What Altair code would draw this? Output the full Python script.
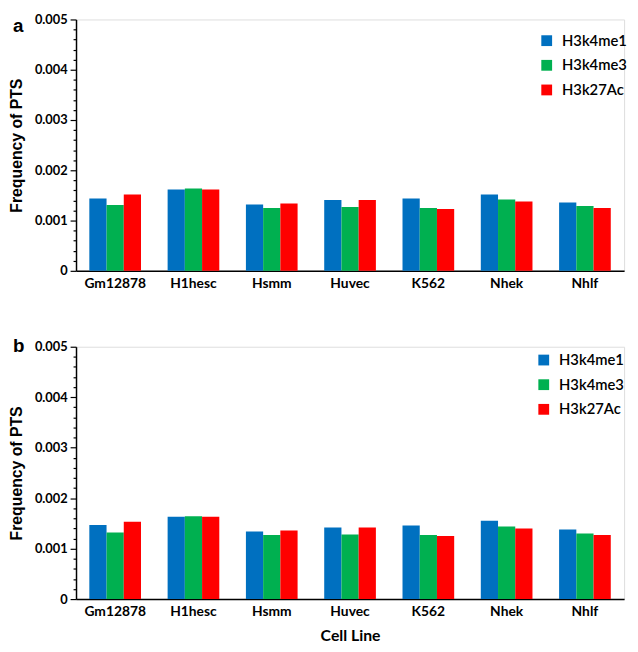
import altair as alt
import pandas as pd

cells = ["Gm12878", "H1hesc", "Hsmm", "Huvec", "K562", "Nhek", "Nhlf"]
marks = ["H3k4me1", "H3k4me3", "H3k27Ac"]
colors = ["#0070C0", "#00B050", "#FF0000"]

a_me1 = [0.00144, 0.00162, 0.00132, 0.00141, 0.00144, 0.00152, 0.00136]
a_me3 = [0.00131, 0.00164, 0.00125, 0.00127, 0.00125, 0.00142, 0.00129]
a_ac = [0.00152, 0.00162, 0.00134, 0.00141, 0.00123, 0.00138, 0.00125]

b_me1 = [0.00147, 0.00163, 0.00134, 0.00142, 0.00146, 0.00155, 0.00138]
b_me3 = [0.00132, 0.00164, 0.00127, 0.00128, 0.00127, 0.00144, 0.00130]
b_ac = [0.00153, 0.00163, 0.00136, 0.00142, 0.00125, 0.00140, 0.00127]

y_tick_values = [0.0, 0.0002, 0.0004, 0.0006, 0.0008, 0.001, 0.0012, 0.0014, 0.0016, 0.0018,
                 0.002, 0.0022, 0.0024, 0.0026, 0.0028, 0.003, 0.0032, 0.0034, 0.0036, 0.0038,
                 0.004, 0.0042, 0.0044, 0.0046, 0.0048, 0.005]

NARROW = "Liberation Sans Narrow, Lato, sans-serif"


def make_df(s1, s2, s3):
    rows = []
    for series, name in zip([s1, s2, s3], marks):
        for c, v in zip(cells, series):
            rows.append({"cell": c, "mark": name, "value": v})
    return pd.DataFrame(rows)


def panel(df, letter, letter_y, leg_x, leg_y, height, xtitle):
    major = "abs(round(datum.value*10000) % 10) < 0.5"
    yaxis = alt.Axis(
        values=y_tick_values,
        labelExpr="(" + major + ") ? (datum.value == 0 ? '0' : format(datum.value, '.3f')) : ''",
        tickSize={"condition": {"test": major, "value": 6}, "value": 3},
        labelOverlap=False, labelFlush=False, grid=False,
        domainColor="black", domainWidth=1.5, tickColor="black", tickWidth=1.2,
        labelFont=NARROW, labelFontWeight="bold", labelFontSize=13, labelColor="black",
        labelPadding=3,
        title="Frequency of PTS", titleFont="Liberation Sans", titleFontSize=16,
        titleFontWeight="bold", titleColor="black", titlePadding=10,
    )
    xaxis = alt.Axis(
        ticks=False, labelAngle=0, domainColor="black", domainWidth=1.5,
        labelFont=NARROW, labelFontWeight="bold", labelFontSize=14, labelColor="black",
        labelPadding=6,
        title=xtitle if xtitle else None,
        titleFont=NARROW, titleFontSize=16, titleFontWeight="bold", titleColor="black",
        titlePadding=9,
    )
    bars = alt.Chart(df).mark_bar().encode(
        x=alt.X("cell:N", sort=cells, axis=xaxis,
                scale=alt.Scale(paddingInner=0.34, paddingOuter=0.17)),
        xOffset=alt.XOffset("mark:N", sort=marks,
                            scale=alt.Scale(paddingInner=0, paddingOuter=0)),
        y=alt.Y("value:Q", scale=alt.Scale(domain=[0, 0.005], nice=False), axis=yaxis),
        color=alt.Color("mark:N", sort=marks,
                        scale=alt.Scale(domain=marks, range=colors),
                        legend=alt.Legend(title=None, orient="none", legendX=leg_x, legendY=leg_y,
                                          symbolType="square", symbolSize=120,
                                          symbolStrokeWidth=0, labelFont=NARROW,
                                          labelFontSize=15, labelFontWeight=600,
                                          labelColor="black",
                                          rowPadding=9, labelOffset=8)),
    )
    lab = alt.Chart(pd.DataFrame({"t": [letter]})).mark_text(
        font="Liberation Sans", fontSize=19, fontWeight="bold", align="left",
        baseline="top", color="black",
    ).encode(x=alt.value(-64), y=alt.value(letter_y), text="t:N")
    return alt.layer(bars, lab).properties(width=556, height=height)


pa = panel(make_df(a_me1, a_me3, a_ac), "a", -2, 470, 14, 255, None)
pb = panel(make_df(b_me1, b_me3, b_ac), "b", -10, 467, 6, 256, "Cell Line")

chart = alt.vconcat(pa, pb, spacing=45).resolve_legend(color="independent").properties(
    padding={"left": 0, "top": 0, "right": 2, "bottom": 0}
).configure_view(stroke="black", strokeWidth=1.5).configure(background="white")

chart.save("out.html", embed_options={"renderer": "svg", "actions": False})
